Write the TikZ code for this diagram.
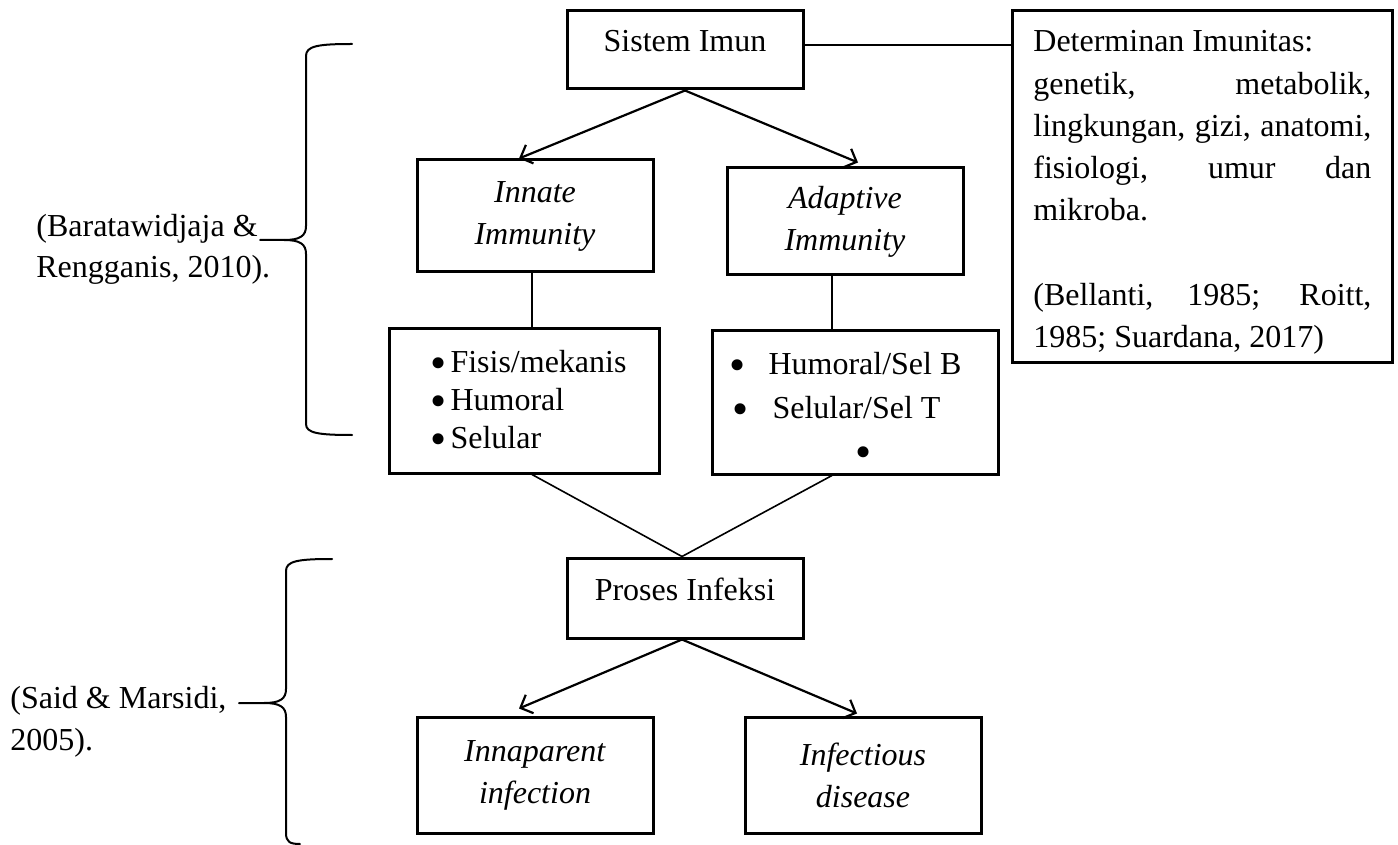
\documentclass[tikz,border=0pt]{standalone}
\usepackage{fontspec}
\usepackage{graphicx}
\setmainfont{Liberation Serif}
\usetikzlibrary{arrows.meta}
\newcommand\bigbul{\smash{\fontsize{23}{23}\selectfont\raisebox{-3pt}{•}}}
\begin{document}
\begin{tikzpicture}[x=0.5pt,y=-0.5pt,
  every node/.style={font=\fontsize{16}{21}\selectfont},
  box/.style={draw, rectangle, line width=1.5pt, align=center, inner sep=0pt},
  onerow/.style={text height=11pt, text depth=9pt},
  txt/.style={inner sep=0pt, anchor=base west, align=left},
  thin/.style={line width=0.8pt},
  arr/.style={line width=1.1pt, -{Straight Barb[length=5pt,width=10pt,line width=1.1pt]}},
  brace/.style={line width=1pt, line cap=round}]
\useasboundingbox (0,0) rectangle (1398,845);

% boxes
\node[box, onerow, minimum width=118pt, minimum height=39pt] (imun) at (685,50) {Sistem Imun};
\node[box, minimum width=190pt, minimum height=176pt] (det) at (1202,187) {};
\node[box, minimum width=118pt, minimum height=56pt] (innate) at (535,216) {\textit{Innate}\\\textit{Immunity}};
\node[box, minimum width=118pt, minimum height=53.5pt] (adapt) at (845,221.5) {\textit{Adaptive}\\\textit{Immunity}};
\node[box, minimum width=135pt, minimum height=72pt] (bl) at (524,401) {};
\node[box, minimum width=143pt, minimum height=71.5pt] (br) at (855,402.5) {};
\node[box, onerow, minimum width=118pt, minimum height=40pt] (proses) at (685,598) {Proses Infeksi};
\node[box, minimum width=118pt, minimum height=58pt] (inap) at (535,775) {\textit{Innaparent}\\\textit{infection}};
\node[box, minimum width=118pt, minimum height=58pt] (infd) at (863,775) {\textit{Infectious}\\\textit{disease}};

% texts
\node[txt] (dettext) at (1033,52) {\parbox[t]{169pt}{\fontsize{16}{21.1}\selectfont
Determinan Imunitas:\\
\makebox[169pt][s]{genetik, metabolik,}\\
\makebox[169pt][s]{lingkungan, gizi, anatomi,}\\
\makebox[169pt][s]{fisiologi, umur dan}\\
mikroba.\\[21.1pt]
\makebox[169pt][s]{(Bellanti, 1985; Roitt,}\\
1985; Suardana, 2017)}};
\node[txt] (bltext) at (430,372) {\parbox[t]{125pt}{\fontsize{16}{19}\selectfont
\bigbul\hspace{2pt}Fisis/mekanis\\
\bigbul\hspace{2pt}Humoral\\
\bigbul\hspace{2pt}Selular}};
\node[txt] (brtext) at (729,374) {\parbox[t]{135pt}{\fontsize{16}{22}\selectfont
\bigbul\hspace{11.5pt}Humoral/Sel B\\
\hspace*{1.5pt}\bigbul\hspace{12pt}Selular/Sel T\\
\hspace*{63pt}\bigbul}};
\node[txt] (cit1) at (36,237) {\parbox[t]{130pt}{\fontsize{16}{20.5}\selectfont
(Baratawidjaja \&\\Rengganis, 2010).}};
\node[txt] (cit2) at (10,708) {\parbox[t]{130pt}{\fontsize{16}{21}\selectfont
(Said \& Marsidi,\\2005).}};

% connectors
\draw[thin] ([yshift=2.5pt]imun.east) -- ([yshift=2.5pt]imun.east -| det.west);
\draw[arr] (imun.south) -- ([xshift=-8pt]innate.north);
\draw[arr] (imun.south) -- ([xshift=6.5pt,yshift=2pt]adapt.north);
\draw[thin] ([xshift=-1.5pt]innate.south) -- ([xshift=-1.5pt]innate.south |- bl.north);
\draw[thin] ([xshift=-6.5pt]adapt.south) -- ([xshift=-6.5pt]adapt.south |- br.north);
\draw[thin] ([xshift=4pt]bl.south) -- ([xshift=-1.5pt]proses.north);
\draw[thin] ([xshift=-11.5pt]br.south) -- ([xshift=-1.5pt]proses.north);
\draw[arr] ([xshift=-1.5pt]proses.south) -- ([xshift=-8pt,yshift=3.5pt]inap.north);
\draw[arr] ([xshift=-1.5pt]proses.south) -- ([xshift=-3pt,yshift=1pt]infd.north);

% braces
\draw[brace] (352,44) .. controls (318,44) and (306,46) .. (306,56) -- (306,226)
  .. controls (306,236) and (300,240) .. (284,240) -- (260,240);
\draw[brace] (284,240) .. controls (300,240) and (306,244) .. (306,254) -- (306,424)
  .. controls (306,433) and (318,435) .. (352,435);
\draw[brace] (332,559) .. controls (298,559) and (286,561) .. (286,571) -- (286,689)
  .. controls (286,699) and (280,703) .. (264,703) -- (239,703);
\draw[brace] (264,703) .. controls (280,703) and (286,707) .. (286,717) -- (286,833)
  .. controls (286,842) and (290,844) .. (300,844);
\end{tikzpicture}
\end{document}
